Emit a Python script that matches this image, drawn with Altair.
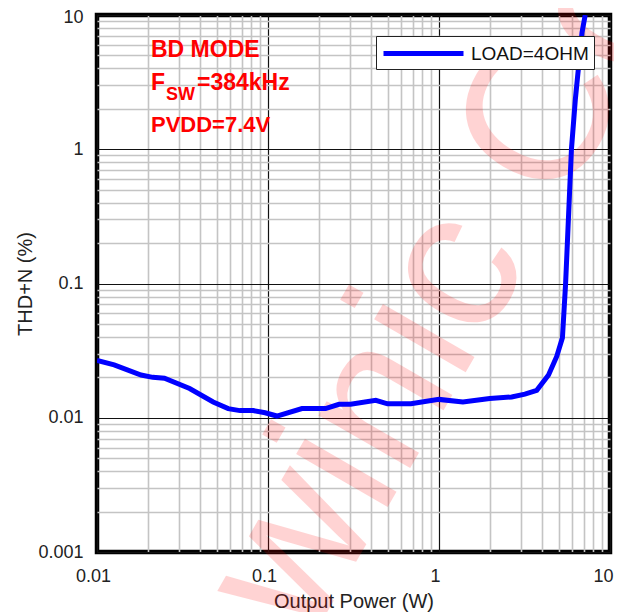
import altair as alt
import pandas as pd

# ---- data ----
power_w = [0.01, 0.0126, 0.0181, 0.0212, 0.0248, 0.0348, 0.0478, 0.0585, 0.0685, 0.082,
           0.0962, 0.1127, 0.158, 0.217, 0.26, 0.304, 0.427, 0.5, 0.685, 1.0,
           1.38, 1.98, 2.66, 3.18, 3.73, 4.37, 4.88, 5.27, 5.5, 5.95,
           6.27, 6.56, 6.86, 7.16]
thd_pct = [0.0267, 0.0248, 0.0208, 0.0200, 0.0197, 0.0165, 0.0131, 0.0117, 0.0113, 0.0113,
           0.0109, 0.0103, 0.0117, 0.0117, 0.0126, 0.0126, 0.0135, 0.0127, 0.0127, 0.0137,
           0.0131, 0.0139, 0.0143, 0.0150, 0.0160, 0.0208, 0.0286, 0.0394, 0.1, 1.0,
           2.35, 4.2, 7.4, 10.0]
series_name = "LOAD=4OHM"

x_ticks = [round(k * 10 ** d, 6) for d in (-2, -1, 0) for k in range(1, 10)] + [10]
y_ticks = [round(k * 10 ** d, 6) for d in (-3, -2, -1, 0) for k in range(1, 10)] + [10]

note_lines = ["BD MODE", "F", "SW", "=384kHz", "PVDD=7.4V"]
watermark = "Awinic Co"

FONT = "Liberation Sans"
MAJOR = "abs(log(datum.value)/LN10 - round(log(datum.value)/LN10)) < 1e-6"
LAST = "datum.value >= 10"

df = pd.DataFrame({"p": power_w, "thd": thd_pct, "series": series_name})


def axis(title, values, label_pad, title_pad, **extra):
    return alt.Axis(
        values=values,
        labelExpr=f"({MAJOR}) ? format(datum.value, '~g') : ''",
        gridColor={"condition": {"test": MAJOR, "value": "#111111"}, "value": "#c4c4c4"},
        gridWidth={"condition": {"test": MAJOR, "value": 1.2}, "value": 1.6},
        domain=False, ticks=False, labelOverlap=False, labelFlush=False,
        labelFontSize=18, labelFont=FONT, labelColor="#222222", labelPadding=label_pad,
        title=title, titleFontSize=20, titleFont=FONT, titleFontWeight="normal",
        titleColor="#222222", titlePadding=title_pad, **extra,
    )


line = alt.Chart(df).mark_line(strokeWidth=5, clip=True).encode(
    x=alt.X("p:Q", scale=alt.Scale(type="log", domain=[0.01, 10], nice=False),
            axis=axis("Output Power (W)", x_ticks, 15, 6,
                      labelOffset={"condition": {"test": LAST, "value": 3}, "value": -4},
                      labelAlign={"condition": {"test": LAST, "value": "right"},
                                  "value": "center"})),
    y=alt.Y("thd:Q", scale=alt.Scale(type="log", domain=[0.001, 10], nice=False),
            axis=axis("THD+N (%)", y_ticks, 14, 2,
                      labelOffset={"condition": {"test": LAST, "value": 2}, "value": 0})),
    color=alt.Color("series:N", scale=alt.Scale(domain=[series_name], range=["#0000ff"]),
                    legend=alt.Legend(title=None, orient="none", legendX=279, legendY=21,
                                      symbolType="M-4,0H4", symbolSize=400, symbolStrokeWidth=5,
                                      symbolOffset=30, labelOffset=35,
                                      labelFontSize=19, labelFont=FONT, labelColor="#111111",
                                      labelLimit=400, strokeColor="#222222", fillColor="white",
                                      padding=5)),
)


def note(text, x, y, size):
    d = pd.DataFrame({"t": [text]})
    return alt.Chart(d).mark_text(align="left", baseline="alphabetic", font=FONT,
                                  fontSize=size, fontWeight="bold", color="#ff0000").encode(
        x=alt.value(x), y=alt.value(y), text="t:N")


wm = alt.Chart(pd.DataFrame({"t": [watermark]})).mark_text(
    align="left", baseline="alphabetic", font=FONT, fontSize=200, angle=300,
    color="#ff0000", opacity=0.17).encode(x=alt.value(147), y=alt.value(741), text="t:N")

chart = alt.layer(
    wm, line,
    note(note_lines[0], 54, 42, 23),
    note(note_lines[1], 54, 75, 23),
    note(note_lines[2], 69, 85, 18),
    note(note_lines[3], 100, 75, 23),
    note(note_lines[4], 54, 117, 22),
).properties(
    width=513, height=537,
    autosize=alt.AutoSizeParams(type="none"),
    padding={"left": 89, "top": 7, "right": 4, "bottom": 60},
).configure_view(stroke="black", strokeWidth=4.5)

chart.save("out.html", embed_options={"renderer": "svg", "actions": False})
